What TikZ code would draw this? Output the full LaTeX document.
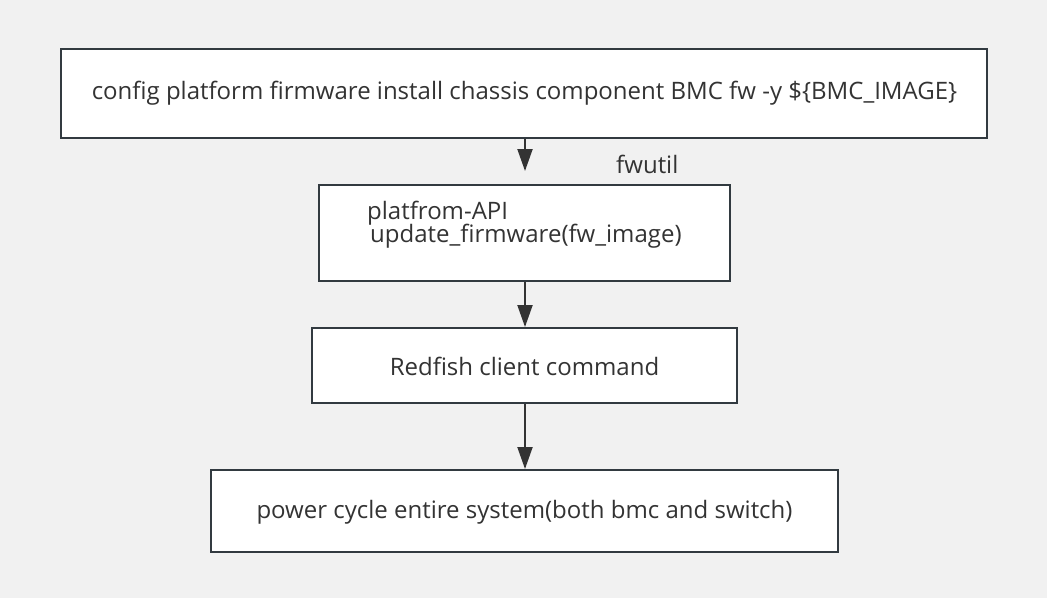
\documentclass[tikz,border=0pt]{standalone}
\usepackage{fontspec}
\setmainfont{Open Sans}
\usetikzlibrary{arrows.meta}
\definecolor{bg}{HTML}{F1F1F1}
\definecolor{edge}{HTML}{323A40}
\definecolor{ink}{HTML}{333333}
\tikzset{
  box/.style={draw=edge, fill=white, line width=2pt, inner sep=0pt, minimum width=#1},
  txt/.style={text=ink, font=\fontsize{24}{26}\selectfont, inner sep=0pt},
  flow/.style={draw=ink, line width=2pt, -{Triangle[length=22pt,width=15pt]}},
}
\begin{document}
\begin{tikzpicture}[x=1pt,y=-1pt]
\fill[bg] (0,0) rectangle (1047,598);
\useasboundingbox (0,0) rectangle (1047,598);
\node[box=926pt, minimum height=89pt] (b1) at (524,93.5) {};
\node[txt] (t1) at (524.5,93) {config platform firmware install chassis component BMC fw -y \$\{BMC\_IMAGE\}};
\node[box=411pt, minimum height=96pt] (b2) at (524.5,233) {};
\node[txt, anchor=west] (t2a) at (367,213) {platfrom-API};
\node[txt, anchor=west] (t2b) at (370,236) {update\_firmware(fw\_image)};
\node[box=425pt, minimum height=75pt] (b3) at (524.5,365.5) {};
\node[txt] (t3) at (524.5,366) {Redfish client command};
\node[box=627pt, minimum height=82pt] (b4) at (524.5,511) {};
\node[txt] (t4) at (524.5,512) {power cycle entire system(both bmc and switch)};
\node[txt, anchor=west] (fw) at (616,164) {fwutil};
\draw[flow, shorten >=13pt] (b1.south -| 525,0) -- (b2.north -| 525,0);
\draw[flow] (b2.south -| 525,0) -- (b3.north -| 525,0);
\draw[flow] (b3.south -| 525,0) -- (b4.north -| 525,0);
\end{tikzpicture}
\end{document}
